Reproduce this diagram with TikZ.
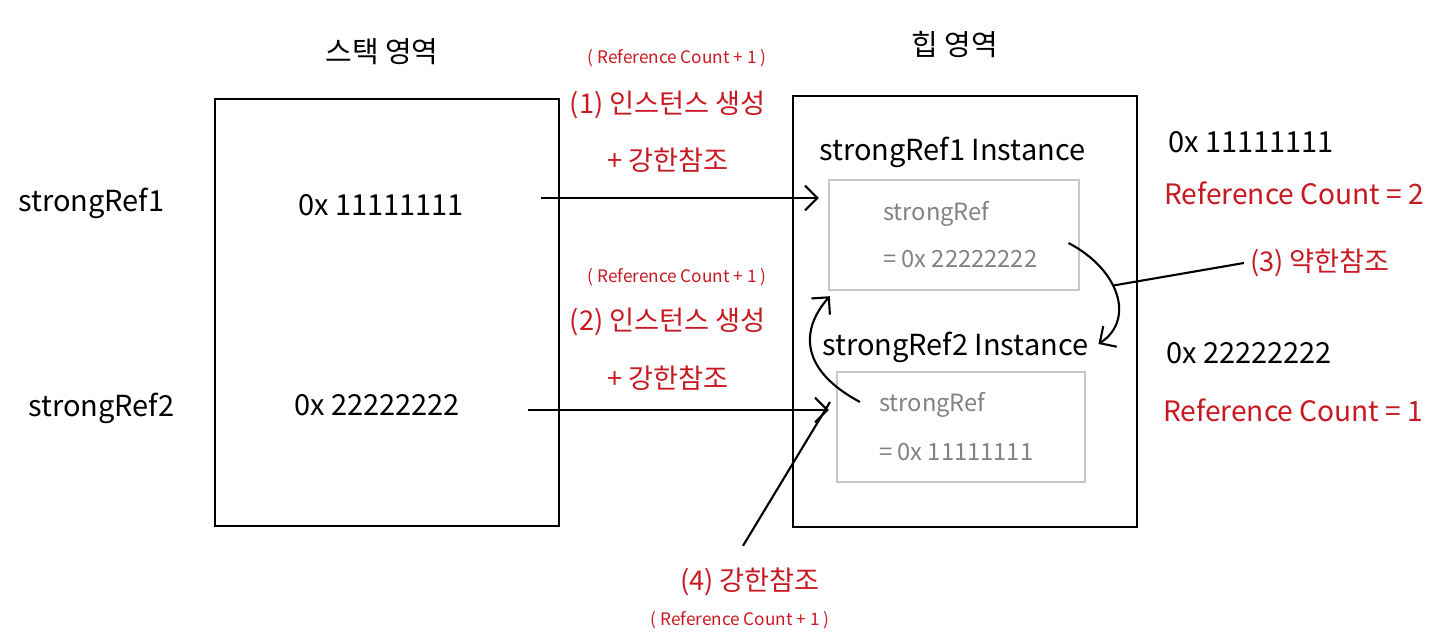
\documentclass[tikz,border=0pt]{standalone}
\usepackage{fontspec}
\setmainfont{Noto Sans CJK KR}
\usetikzlibrary{arrows.meta}
\definecolor{memored}{RGB}{200,25,35}
\definecolor{slotgray}{RGB}{200,200,200}
\definecolor{valgray}{RGB}{130,130,130}
\tikzset{
  area/.style={draw, line width=1.6pt, inner sep=0pt},
  slot/.style={draw=slotgray, line width=1.4pt, inner sep=0pt},
  txt/.style={font=\fontsize{16.5}{19}\selectfont},
  memo/.style={font=\fontsize{15.5}{18}\selectfont, text=memored},
  count/.style={font=\fontsize{16}{19}\selectfont, text=memored, anchor=west},
  tiny/.style={font=\fontsize{9.8}{11}\selectfont, text=memored},
  field/.style={font=\fontsize{13.5}{16}\selectfont, text=valgray, anchor=west},
  arr/.style={-{Straight Barb[length=7pt,width=14pt]}, line width=1.2pt},
  lead/.style={line width=1.2pt}
}
\begin{document}
\begin{tikzpicture}[x=0.02cm,y=-0.02cm]
        \useasboundingbox (0,0) rectangle (1440,640);
        % stack side
        \node[txt] (stacktitle) at (382,52) {스택 영역};
        \node[area, minimum width=6.88cm, minimum height=8.54cm] (stack) at (387,312.5) {};
        \node[txt, anchor=west] (ref1) at (12,203) {strongRef1};
        \node[txt, anchor=west] (ref2) at (22,408) {strongRef2};
        \node[txt] (addr1) at (381,205) {0x 11111111};
        \node[txt] (addr2) at (377,405) {0x 22222222};
        % heap side
        \node[txt] (heaptitle) at (955,45) {힙 영역};
        \node[area, minimum width=6.88cm, minimum height=8.62cm] (heap) at (965,311.5) {};
        \node[txt, anchor=west] (inst1) at (813,152) {strongRef1 Instance};
        \node[slot, minimum width=5cm, minimum height=2.2cm] (slot1) at (954,235) {};
        \node[field] (fld1) at (877,214) {strongRef};
        \node[field] (val1) at (877,259) {= 0x 22222222};
        \node[txt, anchor=west] (inst2) at (816,347) {strongRef2 Instance};
        \node[slot, minimum width=4.96cm, minimum height=2.2cm] (slot2) at (961,427) {};
        \node[field] (fld2) at (873,405) {strongRef};
        \node[field] (val2) at (873,452) {= 0x 11111111};
        % addresses and counts
        \node[txt, anchor=west] (haddr1) at (1162,142) {0x 11111111};
        \node[count] (count1) at (1158,193) {Reference Count = 2};
        \node[txt, anchor=west] (haddr2) at (1160,353) {0x 22222222};
        \node[count] (count2) at (1157,410) {Reference Count = 1};
        % steps
        \node[tiny] (plus1) at (677,58) {( Reference Count + 1 )};
        \node[memo] (step1) at (668,105) {(1) 인스턴스 생성};
        \node[memo] (strong1) at (668,160) {+ 강한참조};
        \node[tiny] (plus2) at (677,277) {( Reference Count + 1 )};
        \node[memo] (step2) at (668,322) {(2) 인스턴스 생성};
        \node[memo] (strong2) at (668,378) {+ 강한참조};
        \node[memo] (step3) at (1320,263) {(3) 약한참조};
        \node[memo] (step4) at (750,582) {(4) 강한참조};
        \node[tiny] (plus4) at (740,620) {( Reference Count + 1 )};
        % references
        \draw[arr] ([shift={(71,-7)}]addr1.east) -- ([shift={(-9,-7)}]addr1 -| slot1.west);
        \draw[arr] ([shift={(62,5)}]addr2.east) -- ([shift={(-7,5)}]addr2 -| slot2.west);
        \draw[arr] ([shift={(25,-16)}]val1.east) .. controls (1120,270) and (1135,320) .. ([shift={(4,-3)}]inst2.east)
            coordinate[pos=0.42] (weak);
        \draw[lead] (step3.west) -- (weak);
        \draw[arr] ([shift={(-13,-3)}]fld2.west) .. controls (800,370) and (800,330) .. ([shift={(2,5)}]slot1.south west);
        \draw[lead] ([shift={(-7,-16)}]step4.north) -- ([shift={(-43,-3)}]fld2.west);
\end{tikzpicture}
\end{document}
